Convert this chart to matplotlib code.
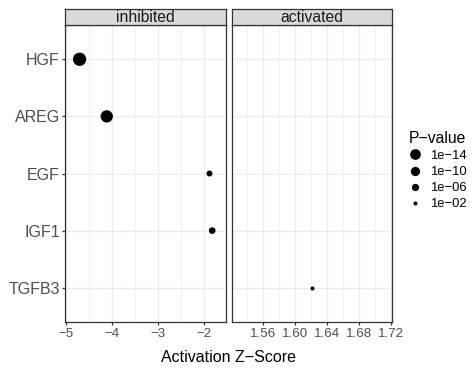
import numpy as np
import matplotlib
matplotlib.use("Agg")
import matplotlib.pyplot as plt
from matplotlib.lines import Line2D
from matplotlib.ticker import FixedLocator, FuncFormatter

plt.rcParams['font.family'] = ['Liberation Sans', 'DejaVu Sans']

# data
genes = ['HGF', 'AREG', 'EGF', 'IGF1', 'TGFB3']
zscore = [-4.71, -4.12, -1.89, -1.83, 1.621]
direction = ['inhibited', 'inhibited', 'inhibited', 'inhibited', 'activated']
pvals = [1.6e-23, 8e-20, 1.1e-4, 1.1e-5, 9e-3]

panels = ['inhibited', 'activated']
xlims = {'inhibited': (-5.02, -1.54), 'activated': (1.521, 1.721)}
xmajor = {'inhibited': [-5, -4, -3, -2], 'activated': [1.56, 1.60, 1.64, 1.68, 1.72]}
xminor = {'inhibited': [-4.5, -3.5, -2.5, -1.5], 'activated': [1.54, 1.58, 1.62, 1.66, 1.70]}
xfmt = {'inhibited': '%d', 'activated': '%.2f'}

legend_p = [1e-14, 1e-10, 1e-06, 1e-02]
legend_lab = ['1e\u221214', '1e\u221210', '1e\u221206', '1e\u221202']

DPI = 100
logp = -np.log10(pvals)
Lmin, Lmax = logp.min(), logp.max()


def diam_pt(p):
    # ggplot-like size scale: area linear in -log10(p), size range 1..6
    L = -np.log10(p)
    size = np.sqrt(1 + 35 * max(L - Lmin, 0) / (Lmax - Lmin))
    d_px = 1.86 * size + 2.14
    return d_px * 72 / DPI


def minus_fmt(fmt):
    return FuncFormatter(lambda v, pos: (fmt % v).replace('-', '\u2212'))


W, H = 477, 370
fig = plt.figure(figsize=(W / DPI, H / DPI), dpi=DPI)

edge = '#333333'
grid = '#EBEBEB'
ticktxt = '#4D4D4D'

pan_x = {'inhibited': 65.3, 'activated': 231.7}
pan_w = 160.3
pan_top, pan_bot = 25.0, 322.0
strip_top = 9.3

ypos = np.arange(len(genes))
for name in panels:
    left = pan_x[name] / W
    ax = fig.add_axes([left, 1 - pan_bot / H, pan_w / W, (pan_bot - pan_top) / H])
    ax.set_xlim(*xlims[name])
    ax.set_ylim(len(genes) - 0.4, -0.6)
    ax.xaxis.set_major_locator(FixedLocator(xmajor[name]))
    ax.xaxis.set_minor_locator(FixedLocator(xminor[name]))
    ax.xaxis.set_major_formatter(minus_fmt(xfmt[name]))
    ax.set_yticks(ypos)
    ax.set_yticklabels(genes)
    ax.grid(True, which='major', color=grid, lw=0.9)
    ax.grid(True, which='minor', axis='x', color=grid, lw=0.5)
    ax.set_axisbelow(True)
    for s in ax.spines.values():
        s.set_color(edge)
        s.set_linewidth(0.9)
    ax.tick_params(axis='x', which='major', length=2.5, width=0.9, color=edge,
                   labelsize=9.6, labelcolor=ticktxt, pad=2)
    ax.tick_params(axis='x', which='minor', length=0)
    ax.tick_params(axis='y', length=2.5, width=0.9, color=edge,
                   labelsize=11.5, labelcolor=ticktxt, pad=1.5)
    if name != 'inhibited':
        ax.tick_params(axis='y', left=False, labelleft=False)

    idx = [i for i, d in enumerate(direction) if d == name]
    ax.scatter([zscore[i] for i in idx], [ypos[i] for i in idx],
               s=[diam_pt(pvals[i]) ** 2 for i in idx], c='black',
               linewidths=0, zorder=3)

    sax = fig.add_axes([left, 1 - pan_top / H, pan_w / W, (pan_top - strip_top) / H])
    sax.set_facecolor('#D9D9D9')
    sax.set_xticks([])
    sax.set_yticks([])
    for s in sax.spines.values():
        s.set_color(edge)
        s.set_linewidth(0.9)
    sax.text(0.5, 0.45, name, ha='center', va='center', fontsize=11.3,
             color='#1A1A1A', transform=sax.transAxes)

fig.text((pan_x['inhibited'] + pan_x['activated'] + pan_w) / 2 / W, 1 - 357 / H,
         'Activation Z\u2212Score', ha='center', va='center', fontsize=11.5)

handles = [Line2D([], [], ls='none', marker='o', color='black', markeredgewidth=0,
                  markersize=diam_pt(p)) for p in legend_p]
leg = fig.legend(handles, legend_lab, title='P\u2212value', loc='upper left',
                 bbox_to_anchor=(409 / W, 1 - 131 / H), frameon=False,
                 fontsize=9.4, title_fontsize=11.3, handlelength=0.9,
                 handletextpad=0.7, labelspacing=0.3, borderpad=0,
                 borderaxespad=0)
leg._legend_box.align = 'left'

fig.savefig('out.png', dpi=DPI)
